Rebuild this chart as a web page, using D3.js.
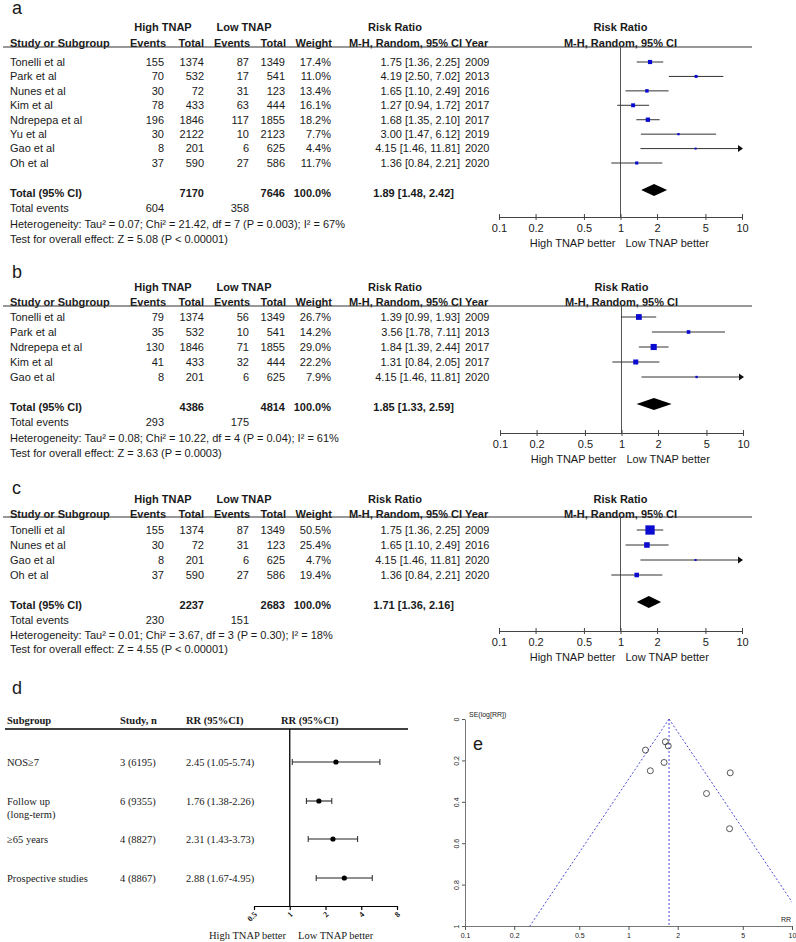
<!DOCTYPE html>
<html>
<head>
<meta charset="utf-8">
<script src="https://cdn.jsdelivr.net/npm/d3@7"></script>
<style>
  body { margin: 0; background: #fff; }
  text { font-family: "Liberation Sans", Arial, sans-serif; fill: #1a1a1a; }
  .serif { font-family: "Liberation Serif", "Times New Roman", serif; }
</style>
</head>
<body>
<svg id="chart" width="796" height="942"></svg>
<script>
// ---- panel a : all studies ----
const studiesA = ["Tonelli et al", "Park et al", "Nunes et al", "Kim et al", "Ndrepepa et al", "Yu et al", "Gao et al", "Oh et al"];
const highEventsA = [155, 70, 30, 78, 196, 30, 8, 37];
const highTotalA = [1374, 532, 72, 433, 1846, 2122, 201, 590];
const lowEventsA = [87, 17, 31, 63, 117, 10, 6, 27];
const lowTotalA = [1349, 541, 123, 444, 1855, 2123, 625, 586];
const weightA = [17.4, 11.0, 13.4, 16.1, 18.2, 7.7, 4.4, 11.7];
const rrA = [1.75, 4.19, 1.65, 1.27, 1.68, 3.00, 4.15, 1.36];
const lowerA = [1.36, 2.50, 1.10, 0.94, 1.35, 1.47, 1.46, 0.84];
const upperA = [2.25, 7.02, 2.49, 1.72, 2.10, 6.12, 11.81, 2.21];
const yearA = [2009, 2013, 2016, 2017, 2017, 2019, 2020, 2020];
const totalA = [7170, 7646, 604, 358];
const pooledA = [1.89, 1.48, 2.42];
const hetA = "Heterogeneity: Tau² = 0.07; Chi² = 21.42, df = 7 (P = 0.003); I² = 67%";
const testA = "Test for overall effect: Z = 5.08 (P < 0.00001)";

// ---- panel b ----
const studiesB = ["Tonelli et al", "Park et al", "Ndrepepa et al", "Kim et al", "Gao et al"];
const highEventsB = [79, 35, 130, 41, 8];
const highTotalB = [1374, 532, 1846, 433, 201];
const lowEventsB = [56, 10, 71, 32, 6];
const lowTotalB = [1349, 541, 1855, 444, 625];
const weightB = [26.7, 14.2, 29.0, 22.2, 7.9];
const rrB = [1.39, 3.56, 1.84, 1.31, 4.15];
const lowerB = [0.99, 1.78, 1.39, 0.84, 1.46];
const upperB = [1.93, 7.11, 2.44, 2.05, 11.81];
const yearB = [2009, 2013, 2017, 2017, 2020];
const totalB = [4386, 4814, 293, 175];
const pooledB = [1.85, 1.33, 2.59];
const hetB = "Heterogeneity: Tau² = 0.08; Chi² = 10.22, df = 4 (P = 0.04); I² = 61%";
const testB = "Test for overall effect: Z = 3.63 (P = 0.0003)";

// ---- panel c ----
const studiesC = ["Tonelli et al", "Nunes et al", "Gao et al", "Oh et al"];
const highEventsC = [155, 30, 8, 37];
const highTotalC = [1374, 72, 201, 590];
const lowEventsC = [87, 31, 6, 27];
const lowTotalC = [1349, 123, 625, 586];
const weightC = [50.5, 25.4, 4.7, 19.4];
const rrC = [1.75, 1.65, 4.15, 1.36];
const lowerC = [1.36, 1.10, 1.46, 0.84];
const upperC = [2.25, 2.49, 11.81, 2.21];
const yearC = [2009, 2016, 2020, 2020];
const totalC = [2237, 2683, 230, 151];
const pooledC = [1.71, 1.36, 2.16];
const hetC = "Heterogeneity: Tau² = 0.01; Chi² = 3.67, df = 3 (P = 0.30); I² = 18%";
const testC = "Test for overall effect: Z = 4.55 (P < 0.00001)";

const forestTicks = [0.1, 0.2, 0.5, 1, 2, 5, 10];

// ---- panel d : subgroups ----
const subgroupsD = [["NOS≥7"], ["Follow up", "(long-term)"], ["≥65 years"], ["Prospective studies"]];
const studyND = ["3 (6195)", "6 (9355)", "4 (8827)", "4 (8867)"];
const rrD = [2.45, 1.76, 2.31, 2.88];
const lowerD = [1.05, 1.38, 1.43, 1.67];
const upperD = [5.74, 2.26, 3.73, 4.95];
const ticksD = [0.5, 1, 2, 4, 8];

// ---- panel e : funnel plot (SE) ----
const seE = [0.13, 0.26, 0.21, 0.15, 0.11, 0.36, 0.53, 0.25];
const pooledE = 1.77;
const ticksEx = [0.1, 0.2, 0.5, 1, 2, 5, 10];
const ticksEy = [0, 0.2, 0.4, 0.6, 0.8, 1];

const svg = d3.select("#chart");
const f2 = d3.format(".2f");
const ciText = (r, l, u) => `${f2(r)} [${f2(l)}, ${f2(u)}]`;

const sideScale = d3.scalePow().exponent(0.75).domain([0, 50.5]).range([0, 9.3]);

function drawForest(p) {
  const g = svg.append("g");
  const fs = "11px";
  const x = d3.scaleLog().domain([0.1, 10]).range([p.x0, p.x0 + 243]);

  g.append("text").attr("x", 12).attr("y", p.letterY)
    .style("font-size", "18px").text(p.letter);

  const hdr1 = [["High TNAP", 163], ["Low TNAP", 244], ["Risk Ratio", 395], ["Risk Ratio", x(1)]];
  g.selectAll(".h1").data(hdr1).enter().append("text")
    .attr("x", d => d[1]).attr("y", p.h1).attr("dy", "0.35em")
    .attr("text-anchor", "middle").style("font-size", fs).style("font-weight", "bold")
    .text(d => d[0]);

  const hdr2 = [["Study or Subgroup", 10, "start"], ["Events", 166, "end"], ["Total", 204, "end"],
    ["Events", 250, "end"], ["Total", 286, "end"], ["Weight", 332, "end"],
    ["M-H, Random, 95% CI", 462, "end"], ["Year", 465, "start"], ["M-H, Random, 95% CI", x(1), "middle"]];
  g.selectAll(".h2").data(hdr2).enter().append("text")
    .attr("x", d => d[1]).attr("y", p.h2).attr("dy", "0.35em")
    .attr("text-anchor", d => d[2]).style("font-size", fs).style("font-weight", "bold")
    .text(d => d[0]);

  g.append("line").attr("x1", 3).attr("x2", 752).attr("y1", p.line).attr("y2", p.line)
    .attr("stroke", "#333").attr("stroke-width", 1.2);

  const n = p.studies.length;
  const rowY = i => p.row0 + i * p.step;
  const cols = [
    [i => p.studies[i], 10, "start"],
    [i => p.he[i], 164, "end"],
    [i => p.ht[i], 204, "end"],
    [i => p.le[i], 249, "end"],
    [i => p.lt[i], 285, "end"],
    [i => d3.format(".1f")(p.w[i]) + "%", 331, "end"],
    [i => ciText(p.rr[i], p.lo[i], p.up[i]), 460, "end"],
    [i => p.year[i], 465, "start"]
  ];
  cols.forEach(c => {
    g.selectAll(null).data(d3.range(n)).enter().append("text")
      .attr("x", c[1]).attr("y", rowY).attr("dy", "0.35em")
      .attr("text-anchor", c[2]).style("font-size", fs)
      .text(c[0]);
  });

  // total row
  const tot = [["Total (95% CI)", 10, "start"], [p.total[0], 204, "end"], [p.total[1], 285, "end"],
    ["100.0%", 331, "end"], [ciText(...p.pooled), 454, "end"]];
  g.selectAll(".tot").data(tot).enter().append("text")
    .attr("x", d => d[1]).attr("y", p.totY).attr("dy", "0.35em")
    .attr("text-anchor", d => d[2]).style("font-size", fs).style("font-weight", "bold")
    .text(d => d[0]);

  const foot = [["Total events", 10, "start", p.evY], [p.total[2], 164, "end", p.evY],
    [p.total[3], 249, "end", p.evY], [p.het, 10, "start", p.hetY], [p.test, 10, "start", p.testY]];
  g.selectAll(".foot").data(foot).enter().append("text")
    .attr("x", d => d[1]).attr("y", d => d[3]).attr("dy", "0.35em")
    .attr("text-anchor", d => d[2]).style("font-size", fs)
    .text(d => d[0]);

  // plot: null line
  g.append("line").attr("x1", x(1)).attr("x2", x(1)).attr("y1", p.line).attr("y2", p.axisY)
    .attr("stroke", "#555").attr("stroke-width", 1);

  // whiskers
  g.selectAll(".ci").data(d3.range(n)).enter().append("line")
    .attr("x1", i => x(Math.max(0.1, p.lo[i]))).attr("x2", i => x(Math.min(10, p.up[i])))
    .attr("y1", rowY).attr("y2", rowY)
    .attr("stroke", "#333").attr("stroke-width", 1);
  // arrows when CI exceeds the axis
  g.selectAll(".arr").data(d3.range(n).filter(i => p.up[i] > 10)).enter().append("path")
    .attr("d", i => `M${x(10) - 4},${rowY(i) - 3.5}L${x(10) + 1},${rowY(i)}L${x(10) - 4},${rowY(i) + 3.5}Z`)
    .attr("fill", "#111");
  // squares
  g.selectAll(".sq").data(d3.range(n)).enter().append("rect")
    .attr("x", i => x(p.rr[i]) - Math.max(2, sideScale(p.w[i])) / 2)
    .attr("y", i => rowY(i) - Math.max(2, sideScale(p.w[i])) / 2)
    .attr("width", i => Math.max(2, sideScale(p.w[i])))
    .attr("height", i => Math.max(2, sideScale(p.w[i])))
    .attr("fill", "#0a0ad0");
  // diamond
  const dy = p.totY - 3;
  g.append("path")
    .attr("d", `M${x(p.pooled[1])},${dy}L${x(p.pooled[0])},${dy - 6}L${x(p.pooled[2])},${dy}L${x(p.pooled[0])},${dy + 6}Z`)
    .attr("fill", "#000");

  // axis
  const axis = d3.axisBottom(x).tickValues(forestTicks).tickFormat(d => d).tickSize(3).tickSizeOuter(0);
  const ag = g.append("g").attr("transform", `translate(0,${p.axisY})`).call(axis);
  ag.select(".domain").attr("stroke", "#444");
  ag.selectAll(".tick line").attr("y1", -3).attr("y2", 3).attr("stroke", "#444");
  ag.selectAll(".tick text").attr("y", 7).style("font-size", fs)
    .style("font-family", "'Liberation Sans', Arial, sans-serif").attr("fill", "#1a1a1a");

  g.append("text").attr("x", x(1) - 5).attr("y", p.axisY + 26).attr("dy", "0.35em")
    .attr("text-anchor", "end").style("font-size", fs).text("High TNAP better");
  g.append("text").attr("x", x(1) + 5).attr("y", p.axisY + 26).attr("dy", "0.35em")
    .attr("text-anchor", "start").style("font-size", fs).text("Low TNAP better");
}

drawForest({
  letter: "a", letterY: 14, h1: 27, h2: 43, line: 47, row0: 62, step: 14.43,
  totY: 193, evY: 208, hetY: 224, testY: 239, axisY: 217, x0: 499,
  studies: studiesA, he: highEventsA, ht: highTotalA, le: lowEventsA, lt: lowTotalA,
  w: weightA, rr: rrA, lo: lowerA, up: upperA, year: yearA,
  total: totalA, pooled: pooledA, het: hetA, test: testA
});
drawForest({
  letter: "b", letterY: 278, h1: 287, h2: 302, line: 306, row0: 317, step: 15,
  totY: 407, evY: 422, hetY: 438, testY: 453, axisY: 433, x0: 500,
  studies: studiesB, he: highEventsB, ht: highTotalB, le: lowEventsB, lt: lowTotalB,
  w: weightB, rr: rrB, lo: lowerB, up: upperB, year: yearB,
  total: totalB, pooled: pooledB, het: hetB, test: testB
});
drawForest({
  letter: "c", letterY: 494, h1: 499, h2: 514, line: 517, row0: 530, step: 15,
  totY: 605, evY: 620, hetY: 635, testY: 649, axisY: 631, x0: 499,
  studies: studiesC, he: highEventsC, ht: highTotalC, le: lowEventsC, lt: lowTotalC,
  w: weightC, rr: rrC, lo: lowerC, up: upperC, year: yearC,
  total: totalC, pooled: pooledC, het: hetC, test: testC
});

// ---------- panel d ----------
{
  const g = svg.append("g");
  const fs = "10.5px";
  const x = d3.scaleLog().base(2).domain([0.5, 8]).range([254, 397]);
  const rowsY = [762, 801, 839, 878];
  const axisY = 906;

  g.append("text").attr("x", 12).attr("y", 694).style("font-size", "18px").text("d");

  const hdr = [["Subgroup", 7], ["Study, n", 120], ["RR (95%CI)", 186], ["RR (95%CI)", 281]];
  g.selectAll(null).data(hdr).enter().append("text").attr("class", "serif")
    .attr("x", d => d[1]).attr("y", 720).attr("dy", "0.35em")
    .style("font-size", fs).style("font-weight", "bold").text(d => d[0]);
  g.append("line").attr("x1", 5).attr("x2", 408).attr("y1", 729).attr("y2", 729)
    .attr("stroke", "#000").attr("stroke-width", 1.5);

  subgroupsD.forEach((lines, i) => {
    lines.forEach((t, k) => {
      g.append("text").attr("class", "serif").attr("x", 7).attr("y", rowsY[i] + k * 13)
        .attr("dy", "0.35em").style("font-size", fs).text(t);
    });
  });
  g.selectAll(null).data(d3.range(4)).enter().append("text").attr("class", "serif")
    .attr("x", 120).attr("y", i => rowsY[i]).attr("dy", "0.35em").style("font-size", fs)
    .text(i => studyND[i]);
  g.selectAll(null).data(d3.range(4)).enter().append("text").attr("class", "serif")
    .attr("x", 186).attr("y", i => rowsY[i]).attr("dy", "0.35em").style("font-size", fs)
    .text(i => `${f2(rrD[i])} (${f2(lowerD[i])}-${f2(upperD[i])})`);

  g.append("line").attr("x1", x(1)).attr("x2", x(1)).attr("y1", 729).attr("y2", axisY)
    .attr("stroke", "#000").attr("stroke-width", 1.3);

  const rows = g.selectAll(".r").data(d3.range(4)).enter().append("g");
  rows.append("line").attr("x1", i => x(lowerD[i])).attr("x2", i => x(upperD[i]))
    .attr("y1", i => rowsY[i]).attr("y2", i => rowsY[i]).attr("stroke", "#222").attr("stroke-width", 1.1);
  rows.append("line").attr("x1", i => x(lowerD[i])).attr("x2", i => x(lowerD[i]))
    .attr("y1", i => rowsY[i] - 3).attr("y2", i => rowsY[i] + 3).attr("stroke", "#222");
  rows.append("line").attr("x1", i => x(upperD[i])).attr("x2", i => x(upperD[i]))
    .attr("y1", i => rowsY[i] - 3).attr("y2", i => rowsY[i] + 3).attr("stroke", "#222");
  rows.append("circle").attr("cx", i => x(rrD[i])).attr("cy", i => rowsY[i]).attr("r", 2.6).attr("fill", "#000");

  const axis = d3.axisBottom(x).tickValues(ticksD).tickFormat(d => d).tickSize(4).tickSizeOuter(0);
  const ag = g.append("g").attr("transform", `translate(0,${axisY})`).call(axis);
  ag.select(".domain").attr("stroke", "#000").attr("stroke-width", 1.2);
  ag.selectAll(".tick line").attr("stroke", "#000").attr("stroke-width", 1.2);
  ag.selectAll(".tick text").attr("class", "serif").style("font-size", "8px")
    .style("font-weight", "bold").attr("fill", "#222")
    .attr("text-anchor", "end").attr("dy", 0).attr("y", 0)
    .attr("transform", "translate(3,9) rotate(-45)");

  g.append("text").attr("class", "serif").attr("x", 286).attr("y", 935).attr("dy", "0.35em")
    .attr("text-anchor", "end").style("font-size", fs).text("High TNAP better");
  g.append("text").attr("class", "serif").attr("x", 298).attr("y", 935).attr("dy", "0.35em")
    .style("font-size", fs).text("Low TNAP better");
}

// ---------- panel e ----------
{
  const g = svg.append("g");
  const x = d3.scaleLog().domain([0.1, 10]).range([465, 792]);
  const y = d3.scaleLinear().domain([0, 1]).range([719, 926]);

  g.append("text").attr("x", 473).attr("y", 750).style("font-size", "18px").text("e");

  svg.append("defs").append("clipPath").attr("id", "clipE").append("rect")
    .attr("x", x(0.1)).attr("y", y(0) - 2).attr("width", x(10) - x(0.1)).attr("height", y(1) - y(0) + 2);

  const funnel = g.append("g").attr("clip-path", "url(#clipE)");
  const z = 1.96;
  const lowEnd = pooledE * Math.exp(-z * 1);
  const highEnd = pooledE * Math.exp(z * 1);
  const dash = { stroke: "#4a4ad8", "stroke-width": 1, "stroke-dasharray": "2,2", fill: "none" };
  const lines = [
    [[pooledE, 0], [lowEnd, 1]],
    [[pooledE, 0], [highEnd, 1]],
    [[pooledE, 0], [pooledE, 1]]
  ];
  lines.forEach(l => {
    const ln = funnel.append("line").attr("x1", x(l[0][0])).attr("y1", y(l[0][1]))
      .attr("x2", x(l[1][0])).attr("y2", y(l[1][1]));
    Object.entries(dash).forEach(([k, v]) => ln.attr(k, v));
  });

  g.selectAll(".pt").data(d3.range(rrA.length)).enter().append("circle")
    .attr("cx", i => x(rrA[i])).attr("cy", i => y(seE[i])).attr("r", 3)
    .attr("fill", "none").attr("stroke", "#444").attr("stroke-width", 0.9);

  const ax = d3.axisBottom(x).tickValues(ticksEx).tickFormat(d => d).tickSize(4).tickSizeOuter(0);
  const axg = g.append("g").attr("transform", `translate(0,${y(1)})`).call(ax);
  axg.select(".domain").attr("stroke", "#777");
  axg.selectAll(".tick line").attr("stroke", "#555");
  axg.selectAll(".tick text").style("font-size", "7px").attr("fill", "#333");

  const ay = d3.axisLeft(y).tickValues(ticksEy).tickFormat(d => d).tickSize(3).tickSizeOuter(0);
  const ayg = g.append("g").attr("transform", `translate(${x(0.1)},0)`).call(ay);
  ayg.select(".domain").attr("stroke", "#777");
  ayg.selectAll(".tick line").attr("stroke", "#555");
  ayg.selectAll(".tick text").style("font-size", "7px").attr("fill", "#333")
    .attr("text-anchor", "middle").attr("x", 0).attr("dy", 0)
    .attr("transform", "translate(-6,0) rotate(-90)");

  g.append("text").attr("x", 469).attr("y", 717).attr("text-anchor", "start")
    .style("font-size", "7px").text("SE(log[RR])");
  g.append("text").attr("x", 786).attr("y", 922).attr("text-anchor", "middle")
    .style("font-size", "7px").text("RR");
}
</script>
</body>
</html>
